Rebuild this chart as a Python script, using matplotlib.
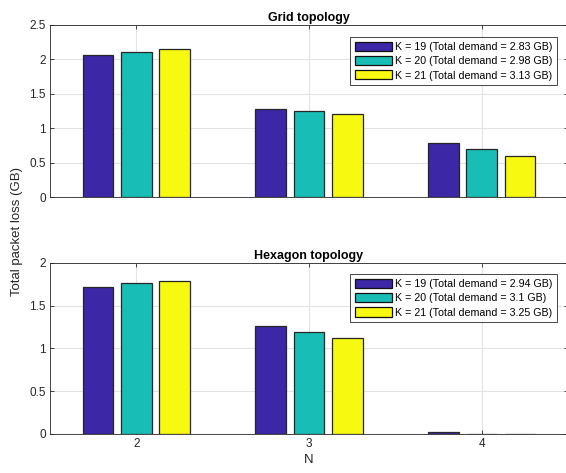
import numpy as np
import matplotlib.pyplot as plt
from matplotlib.patches import Patch

plt.rcParams['font.family'] = ['Liberation Sans', 'DejaVu Sans']

# -----------------------------
# DATA
# -----------------------------
n_values = [2, 3, 4]
k_labels = ["K = 19", "K = 20", "K = 21"]

grid_demand = ["2.83", "2.98", "3.13"]
hex_demand = ["2.94", "3.1", "3.25"]

# rows: N = 2, 3, 4 ; cols: K = 19, 20, 21
grid_loss = np.array([
    [2.055, 2.10, 2.15],
    [1.28, 1.255, 1.21],
    [0.785, 0.70, 0.59],
])
hex_loss = np.array([
    [1.723, 1.762, 1.793],
    [1.26, 1.197, 1.127],
    [0.027, 0.005, 0.003],
])

colors = ["#3c27a6", "#18beb5", "#f8f910"]

# -----------------------------
# PLOT
# -----------------------------
fig = plt.figure(figsize=(5.66, 4.73), dpi=100)
ax1 = fig.add_axes([0.0883, 0.5835, 0.915, 0.3643])
ax2 = fig.add_axes([0.0883, 0.0825, 0.915, 0.3615])


def draw(ax, loss, demand, title, ymax, yticks, show_x, leg_y):
    x = np.array(n_values, dtype=float)
    offsets = [-0.222, 0.0, 0.222]
    for j in range(3):
        ax.bar(x + offsets[j], loss[:, j], width=0.177, color=colors[j],
               edgecolor="#262626", linewidth=0.9, zorder=3)
    ax.set_xlim(1.5, 4.5)
    ax.set_ylim(0, ymax)
    ax.set_xticks(n_values)
    ax.set_yticks(yticks)
    ax.set_yticklabels([("%g" % v) for v in yticks])
    if not show_x:
        ax.set_xticklabels([])
    ax.grid(True, color="#e3e3e3", linewidth=0.8, zorder=0)
    ax.set_axisbelow(True)
    ax.tick_params(direction="in", top=True, right=True, length=3,
                   labelsize=8.5, colors="#262626", width=0.6, pad=3)
    for s in ax.spines.values():
        s.set_color("#262626")
        s.set_linewidth(0.6)
    ax.set_title(title, fontsize=9, fontweight="bold", pad=3)

    handles = [Patch(facecolor=colors[j], edgecolor="#111111", linewidth=0.9)
               for j in range(3)]
    labels = ["%s (Total demand = %s GB)" % (k_labels[j], demand[j])
              for j in range(3)]
    leg = ax.legend(handles, labels, loc="upper right",
                    bbox_to_anchor=(0.979, leg_y), fontsize=7.7,
                    fancybox=False, framealpha=1, edgecolor="#262626",
                    handlelength=3.4, handleheight=0.95, handletextpad=0.3,
                    borderpad=0.45, labelspacing=0.38, borderaxespad=0)
    leg.get_frame().set_linewidth(0.6)


draw(ax1, grid_loss, grid_demand, "Grid topology", 2.5,
     [0, 0.5, 1, 1.5, 2, 2.5], False, 0.93)
draw(ax2, hex_loss, hex_demand, "Hexagon topology", 2,
     [0, 0.5, 1, 1.5, 2], True, 0.937)

ax2.set_xlabel("N", fontsize=9.5, color="#262626", labelpad=3)
fig.text(0.03, 0.51, "Total packet loss (GB)", rotation=90, fontsize=9.5,
         color="#262626", ha="center", va="center")

fig.savefig("out.png", dpi=100)
